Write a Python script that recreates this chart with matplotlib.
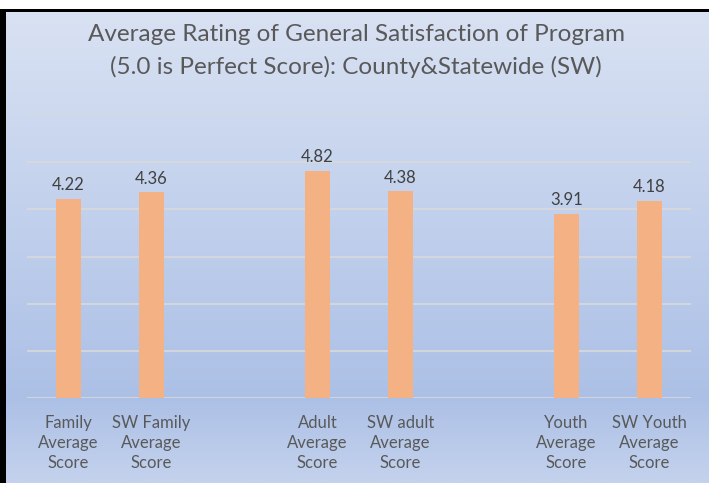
import numpy as np
import matplotlib
matplotlib.use("Agg")
import matplotlib.pyplot as plt
from matplotlib.patches import Rectangle

plt.rcParams['font.family'] = ['Lato', 'DejaVu Sans']

# chart data
categories = ["Family\nAverage\nScore", "SW Family\nAverage\nScore", "",
              "Adult\nAverage\nScore", "SW adult\nAverage\nScore", "",
              "Youth\nAverage\nScore", "SW Youth\nAverage\nScore"]
scores = [4.22, 4.36, None, 4.82, 4.38, None, 3.91, 4.18]
title = "Average Rating of General Satisfaction of Program\n(5.0 is Perfect Score): County&Statewide (SW)"

W, H = 709, 483
fig = plt.figure(figsize=(W / 100, H / 100), dpi=100)
fig.patch.set_facecolor('white')

# gradient background
bg = fig.add_axes([6 / W, 0, 1 - 6 / W, (H - 12) / H])
top_c = np.array([217, 226, 243]) / 255
mid_c = np.array([172, 192, 230]) / 255
bot_c = np.array([196, 210, 237]) / 255
t = np.linspace(0, 1, 300)[:, None]
split = 0.82
grad = np.where(t < split,
                top_c + (mid_c - top_c) * (t / split),
                mid_c + (bot_c - mid_c) * ((t - split) / (1 - split)))
bg.imshow(grad[:, None, :], aspect='auto', extent=[0, 1, 0, 1])
bg.set_axis_off()

# black frame on top and left
fig.patches.append(Rectangle((0, (H - 12) / H), 1, 3 / H, transform=fig.transFigure,
                             facecolor='black', edgecolor='none', zorder=5))
fig.patches.append(Rectangle((0, 0), 6 / W, (H - 9) / H, transform=fig.transFigure,
                             facecolor='black', edgecolor='none', zorder=5))

ax = fig.add_axes([27 / W, (H - 398) / H, (691 - 27) / W, (398 - 115) / H])
ax.patch.set_alpha(0)

x = np.arange(len(categories))
vals = [v if v is not None else 0 for v in scores]
bars = ax.bar(x, vals, width=0.31, color='#F4B183', zorder=3)
for xi, v in zip(x, scores):
    if v is not None:
        ax.text(xi, v + 0.12, f"{v:.2f}", ha='center', va='bottom',
                fontsize=12, color='#404040')

ax.set_xlim(-0.5, len(categories) - 0.5)
ax.set_ylim(0, 6)
ax.set_yticks(np.arange(0, 7, 1))
ax.yaxis.grid(True, color='#D9D9D9', linewidth=1.2, zorder=0)
ax.tick_params(axis='y', left=False, labelleft=False)
ax.tick_params(axis='x', length=0, pad=12)
ax.set_xticks(x)
ax.set_xticklabels(categories, fontsize=12, color='#595959', linespacing=1.32)
for s in ax.spines.values():
    s.set_visible(False)

fig.text(356 / W, 1 - 51 / H, title, ha='center', va='center', fontsize=17.5,
         color='#595959', linespacing=1.6)

fig.savefig('out.png', dpi=100)
